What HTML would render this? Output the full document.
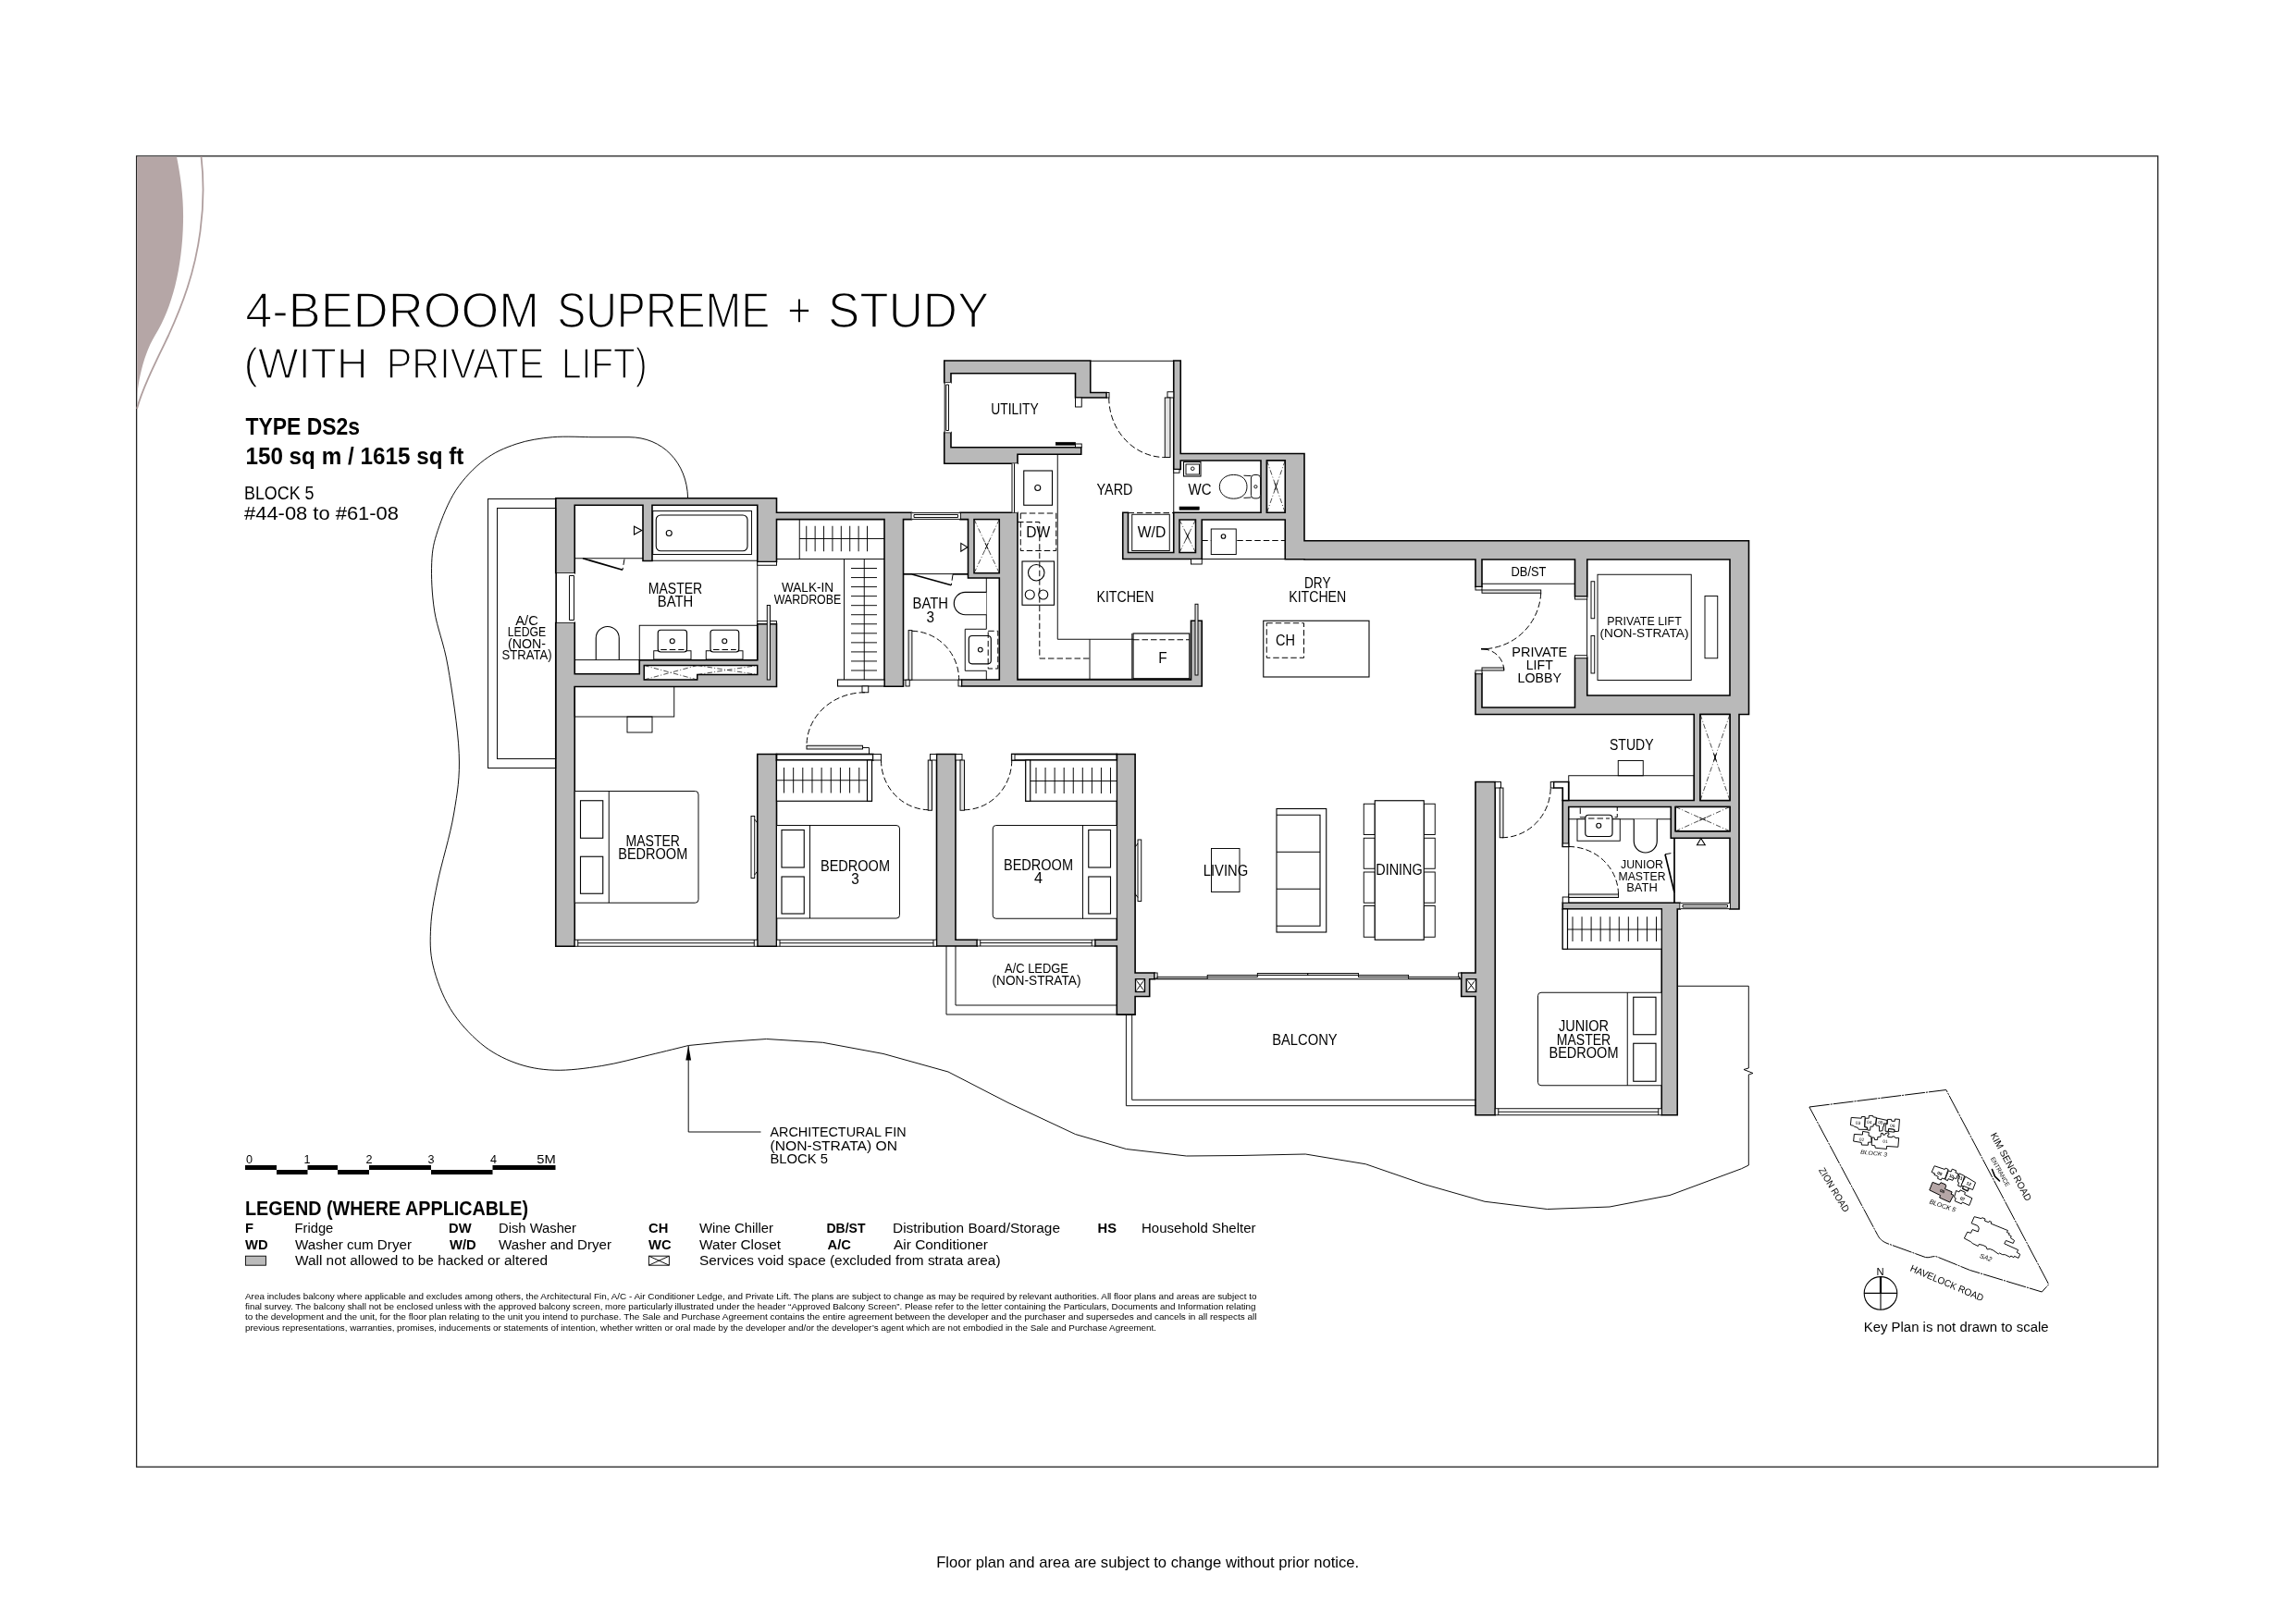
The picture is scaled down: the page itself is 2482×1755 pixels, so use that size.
<!DOCTYPE html>
<html lang="en"><head><meta charset="utf-8"><title>4-Bedroom Supreme + Study</title><style>
html,body{margin:0;padding:0;background:#fff}
body{width:2482px;height:1755px;overflow:hidden}
svg{display:block;will-change:transform;opacity:.9999}
text{font-family:"Liberation Sans",sans-serif;fill:#000}
.w{fill:#b9b9b9;stroke:#000;stroke-width:1.6;stroke-linejoin:miter}
.t{fill:none;stroke:#000;stroke-width:.95}
.t2{fill:none;stroke:#000;stroke-width:1.1}
.k{fill:none;stroke:#000;stroke-width:1.7}
.f{fill:#fff;stroke:#000;stroke-width:.95}
.f0{fill:#fff;stroke:none}
.fg{fill:#d8d8d8;stroke:#000;stroke-width:.9}
.fg2{fill:#e2e2e2;stroke:#000;stroke-width:.95}
.f2{fill:#fff;stroke:#000;stroke-width:1.15}
.f3{fill:#fff;stroke:#000;stroke-width:1.7}
.bk{fill:#000;stroke:#000;stroke-width:.6}
.vb{fill:#fff;stroke:#000;stroke-width:1.5}
.vb2{fill:#fff;stroke:#000;stroke-width:1.3}
.d{fill:none;stroke:#000;stroke-width:1;stroke-dasharray:6.5 3}
.dd{fill:none;stroke:#111;stroke-width:.75;stroke-dasharray:5.5 2.2 1 2.2}
.thin{stroke:#fff;stroke-width:1.5px;paint-order:normal}
.semi{stroke:#fff;stroke-width:.35px;paint-order:normal}
.kp{fill:#fff;stroke:#000;stroke-width:.95}
.kph{fill:#b5a6a6;stroke:#000;stroke-width:1}
.kpb{fill:none;stroke:#000;stroke-width:1;stroke-dasharray:22 1 2 1}
.kpa{fill:none;stroke:#000;stroke-width:1.6;stroke-linecap:round}
.kpn{fill:none;stroke:#000;stroke-width:2.2}
</style></head><body>
<svg width="2482" height="1755" viewBox="0 0 2482 1755">
<rect x="147.6" y="168.8" width="2185.1" height="1417.4" fill="none" stroke="#222" stroke-width="1.3"/>
<path fill="#b5a6a6" d="M148.2 169.4H191C196 195 198.5 215 198 240C197 290 186 333 168 362C156 381.5 150 408 148.2 428Z"/>
<path fill="none" stroke="#b09f9f" stroke-width="1.8" d="M217.5 169C220.5 195 220.5 220 216.5 250C210.5 295 197 330 182 363C168 392 154 420 148 442"/>
<path class="t" d="M743.6 538.3C742.5 500 716 472.7 680 472.7L640 472.7C632.88 472.7 610.95 471.47 597.3 472.7C583.65 473.93 570.43 475.97 558.1 480.1C545.77 484.23 534.18 489.15 523.3 497.5C512.42 505.85 501.15 517.48 492.8 530.2C484.45 542.92 477.55 560.73 473.2 573.8C468.85 586.87 467.28 594.08 466.7 608.6C466.12 623.12 466.8 642.32 469.7 660.9C472.6 679.48 479.68 694.5 484.1 720.1C488.52 745.7 495.12 787.85 496.2 814.5C497.28 841.15 494.5 856.58 490.6 880C486.7 903.42 476.95 934.7 472.8 955C468.65 975.3 466.48 986.97 465.7 1001.8C464.92 1016.63 464.58 1029.17 468.1 1044C471.62 1058.83 478.22 1076.77 486.8 1090.8C495.38 1104.83 507.9 1118.45 519.6 1128.2C531.3 1137.95 543.73 1144.47 557 1149.3C570.27 1154.13 583.58 1156.67 599.2 1157.2C614.82 1157.73 633.53 1155.23 650.7 1152.5C667.87 1149.77 686.6 1144.47 702.2 1140.8C717.8 1137.13 737.28 1132.22 744.3 1130.5L785 1126.5L828.6 1123.5L889.4 1127.3L955 1139.5L1025 1159L1090 1192.5L1162.5 1226.5L1217.5 1242.5L1282.5 1250L1340 1249.5L1411.25 1248L1476.25 1258.75L1540 1280.75L1605 1299.25L1672.5 1307.5L1740 1305L1805 1292.5L1882.5 1263.75L1890.3 1260"/>
<path class="t" d="M744.2 1131V1224H822.5"/>
<path d="M744.2 1130.5L741.3 1146.5H747.1Z" fill="#000"/>
<text x="832.5" y="1228.75" font-size="15.4" text-anchor="start" textLength="147" lengthAdjust="spacingAndGlyphs">ARCHITECTURAL FIN</text>
<text x="832.5" y="1243.6" font-size="15.4" text-anchor="start" textLength="137.5" lengthAdjust="spacingAndGlyphs">(NON-STRATA) ON</text>
<text x="832.5" y="1257.7" font-size="15.4" text-anchor="start" textLength="62.5" lengthAdjust="spacingAndGlyphs">BLOCK 5</text>
<path class="w" fill-rule="evenodd" d="M1162.5 403.75L1162.5 430L1178.75 430L1196.25 430L1196.25 424.5L1178.75 424.5L1178.75 403.75L1178.75 390L1162.5 390L1028 390L1020.75 390L1020.75 403.75L1020.75 413.75L1028 413.75L1028 403.75ZM1100 501.25L1100 491.25L1168.75 491.25L1168.75 483.75L1100 483.75L1028 483.75L1028 467.5L1020.75 467.5L1020.75 483.75L1020.75 501.25L1028 501.25ZM705 606.5L705 546.25L818.75 546.25L818.75 607.5L839.5 607.5L839.5 561.6L956 561.6L956 742.3L976.5 742.3L976.5 561.6L985.5 561.6L985.5 554.3L976.5 554.3L956 554.3L839.5 554.3L839.5 546.25L839.5 538.75L818.75 538.75L621.25 538.75L600.75 538.75L600.75 546.25L600.75 620L621.25 620L621.25 546.25L695 546.25L695 606.5ZM1038 554.2L1038 561.6L1046.5 561.6L1046.5 625L1080.3 625L1080.3 735L1039.5 735L1039.5 742L1080.3 742L1100 742L1287.5 742L1299.25 742L1299.25 735L1299.25 671.25L1287.5 671.25L1287.5 735L1100 735L1100 625L1100 561.6L1100 554.2L1080.3 554.2L1046.5 554.2ZM621.25 728.75L621.25 673L600.75 673L600.75 1023.25L621.25 1023.25L621.25 742.5L691.25 742.5L818.75 742.5L839.5 742.5L839.5 713.75L839.5 674.6L818.75 674.6L818.75 713.75L691.25 713.75L691.25 728.75ZM1033 1016.25L1033 815.5L1012.5 815.5L1012.5 1023L1033 1023L1056.25 1023L1056.25 1016.25ZM818.75 1023.25L839.5 1023.25L839.5 815.5L818.75 815.5ZM1363 554.25L1299.25 554.25L1268.75 554.25L1268.75 562L1268.75 597.5L1219.5 597.5L1219.5 554.25L1213.75 554.25L1213.75 597.5L1213.75 604.5L1219.5 604.5L1268.75 604.5L1299.25 604.5L1299.25 597.5L1299.25 562L1363 562L1369.5 562L1389.25 562L1389.25 604.75L1410 604.75L1410 605L1595 605L1595 634.5L1602 634.5L1602 605L1702.5 605L1702.5 645L1715.75 645L1715.75 605L1870 605L1870 752L1715.75 752L1715.75 711.25L1702.5 711.25L1702.5 752L1702.5 765L1602 765L1602 728L1595 728L1595 765L1595 772.5L1602 772.5L1702.5 772.5L1715.75 772.5L1716 772.5L1831.25 772.5L1831.25 865.5L1695.75 865.5L1689.25 865.5L1689.25 872.5L1689.25 915.5L1695.75 915.5L1695.75 872.5L1806.25 872.5L1806.25 898.75L1806.25 906.25L1811.25 906.25L1870 906.25L1870 983L1880 983L1880 772.5L1890.5 772.5L1890.5 752L1890.5 605L1890.5 584.75L1870 584.75L1410 584.75L1410 562L1410 554.25L1410 498L1410 490.5L1389.25 490.5L1276.25 490.5L1276.25 390L1268.75 390L1268.75 507.5L1276.25 507.5L1276.25 498L1363 498ZM1369.5 498L1389.25 498L1389.25 554.25L1369.5 554.25ZM1870 872.5L1870 898.75L1811.25 898.75L1811.25 872.5L1831.25 872.5L1838 872.5ZM1838 772.5L1870 772.5L1870 865.5L1838 865.5ZM1183.75 1023L1207.3 1023L1207.3 1097.1L1227.1 1097.1L1227.1 1077.5L1242.7 1077.5L1242.7 1058.7L1248.1 1058.7L1248.1 1052L1227.1 1052L1227.1 815.5L1207.3 815.5L1207.3 1016.25L1183.75 1016.25ZM1813.25 983L1816.25 983L1816.25 976.25L1813.25 976.25L1796.25 976.25L1689.25 976.25L1689.25 983L1796.25 983L1796.25 1205.75L1813.25 1205.75ZM1595 1205.75L1616.25 1205.75L1616.25 845.5L1595 845.5L1595 1052L1579.7 1052L1579.7 1077.5L1595 1077.5Z"/>
<path class="vb" d="M696.25 719.5L818.75 719.5L818.75 729.5L753.75 729.5L753.75 735L696.25 735Z"/>
<path class="dd" d="M696.25 719.5L753.75 735M696.25 735L753.75 719.5M753.75 719.5L818.75 729.5M753.75 729.5L818.75 719.5"/>
<rect class="vb" x="1053" y="561.6" width="27.3" height="58.1"/>
<path class="dd" d="M1053 561.6L1066.65 590.65"/>
<path class="dd" d="M1080.3 561.6L1066.65 590.65"/>
<path class="dd" d="M1053 619.7L1066.65 590.65"/>
<path class="dd" d="M1080.3 619.7L1066.65 590.65"/>
<path class="t" d="M1064.95 587.03L1068.35 594.27"/>
<path class="t" d="M1068.35 587.03L1064.95 594.27"/>
<rect class="vb" x="1369.5" y="498" width="19.75" height="56.25"/>
<path class="dd" d="M1369.5 498L1379.38 526.12"/>
<path class="dd" d="M1389.25 498L1379.38 526.12"/>
<path class="dd" d="M1369.5 554.25L1379.38 526.12"/>
<path class="dd" d="M1389.25 554.25L1379.38 526.12"/>
<path class="t" d="M1378.05 522.35L1380.7 529.9"/>
<path class="t" d="M1380.7 522.35L1378.05 529.9"/>
<rect class="vb" x="1275" y="562" width="17.5" height="35.5"/>
<path class="dd" d="M1275 562L1283.75 579.75"/>
<path class="dd" d="M1292.5 562L1283.75 579.75"/>
<path class="dd" d="M1275 597.5L1283.75 579.75"/>
<path class="dd" d="M1292.5 597.5L1283.75 579.75"/>
<path class="t" d="M1281.98 576.16L1285.52 583.34"/>
<path class="t" d="M1285.52 576.16L1281.98 583.34"/>
<rect class="vb" x="1838" y="772.5" width="32" height="93"/>
<path class="dd" d="M1838 772.5L1854 819"/>
<path class="dd" d="M1870 772.5L1854 819"/>
<path class="dd" d="M1838 865.5L1854 819"/>
<path class="dd" d="M1870 865.5L1854 819"/>
<path class="t" d="M1852.7 815.22L1855.3 822.78"/>
<path class="t" d="M1855.3 815.22L1852.7 822.78"/>
<rect class="vb" x="1811.25" y="872.5" width="58.75" height="26.25"/>
<path class="dd" d="M1811.25 872.5L1840.62 885.62"/>
<path class="dd" d="M1870 872.5L1840.62 885.62"/>
<path class="dd" d="M1811.25 898.75L1840.62 885.62"/>
<path class="dd" d="M1870 898.75L1840.62 885.62"/>
<path class="t" d="M1836.97 883.99L1844.28 887.26"/>
<path class="t" d="M1844.28 883.99L1836.97 887.26"/>
<rect class="vb2" x="1227.5" y="1058.7" width="10" height="13.8"/>
<path class="dd" d="M1227.5 1058.7L1232.5 1065.6"/>
<path class="dd" d="M1237.5 1058.7L1232.5 1065.6"/>
<path class="dd" d="M1227.5 1072.5L1232.5 1065.6"/>
<path class="dd" d="M1237.5 1072.5L1232.5 1065.6"/>
<path class="t" d="M1230.15 1062.36L1234.85 1068.84"/>
<path class="t" d="M1234.85 1062.36L1230.15 1068.84"/>
<rect class="vb2" x="1585.2" y="1058.7" width="10.5" height="13.8"/>
<path class="dd" d="M1585.2 1058.7L1590.45 1065.6"/>
<path class="dd" d="M1595.7 1058.7L1590.45 1065.6"/>
<path class="dd" d="M1585.2 1072.5L1590.45 1065.6"/>
<path class="dd" d="M1595.7 1072.5L1590.45 1065.6"/>
<path class="t" d="M1588.03 1062.42L1592.87 1068.78"/>
<path class="t" d="M1592.87 1062.42L1588.03 1068.78"/>
<path class="f3" d="M1679.5 845.5L1695.75 845.5L1695.75 865.5L1689.25 865.5L1689.25 852L1679.5 852Z"/>
<rect class="t" x="527.5" y="539.5" width="73.25" height="291"/>
<rect class="t" x="537.5" y="549.5" width="63.25" height="271"/>
<rect class="f0" x="600.75" y="620" width="20.5" height="53"/>
<path class="t" d="M601.5 620V673M615.5 622.5V670.5H620.5V622.5Z"/>
<path class="t" d="M621.25 603.75L695 603.75"/>
<path class="k" d="M630 603.75L673 616.25"/>
<path class="d" d="M675 604.5L673 616.25"/>
<path class="t2" d="M685.5 569.25L685.5 578L693.75 573.6Z"/>
<path class="t" d="M705 606.25L818.75 606.25"/>
<rect class="t" x="705.75" y="552.5" width="106.75" height="47"/>
<rect class="t2" x="709.25" y="557" width="98.75" height="38.75" rx="5"/>
<circle class="t2" cx="723.25" cy="576.5" r="3"/>
<path class="t" d="M818.75 607.5L818.75 673"/>
<rect class="f" x="818.75" y="607.5" width="20.75" height="3.75"/>
<rect class="f" x="818.75" y="671.6" width="20.75" height="3"/>
<rect class="fg2" x="829.25" y="654.5" width="3.25" height="80.5"/>
<path class="t2" d="M644.25 713.6V690A12.5 12.5 0 0 1 669.25 690V713.6"/>
<path class="t" d="M621.25 713.6L691.25 713.6"/>
<rect class="t" x="691.25" y="676.25" width="127.5" height="37.5"/>
<rect class="f" x="706.75" y="703.75" width="40.25" height="9.25"/>
<rect class="f2" x="711.25" y="681.25" width="31.25" height="23.75" rx="3"/>
<circle class="t2" cx="726.75" cy="693.25" r="2.5"/>
<path class="d" d="M714.25 702.5L739.5 702.5"/>
<rect class="f" x="763.25" y="703.75" width="39.75" height="9.25"/>
<rect class="f2" x="768" y="681.25" width="30.75" height="23.75" rx="3"/>
<circle class="t2" cx="783.25" cy="693.25" r="2.5"/>
<path class="d" d="M771 702.5L795.75 702.5"/>
<path class="t" d="M864.25 561.6L864.25 604.5"/>
<path class="t" d="M839.5 604.5L956 604.5"/>
<path class="t" d="M871.75 568.75V596.25M881.14 568.75V596.25M890.54 568.75V596.25M899.93 568.75V596.25M909.32 568.75V596.25M918.71 568.75V596.25M928.11 568.75V596.25M937.5 568.75V596.25M864.25 582.5H956"/>
<path class="t" d="M912.5 604.5L912.5 735"/>
<path class="t" d="M934.25 604.5L934.25 735"/>
<path class="t" d="M920 614.5H948M920 624.55H948M920 634.59H948M920 644.64H948M920 654.68H948M920 664.73H948M920 674.77H948M920 684.82H948M920 694.86H948M920 704.91H948M920 714.95H948M920 725H948"/>
<rect class="f2" x="905.5" y="735" width="50.5" height="7"/>
<rect class="f" x="932" y="742" width="6.75" height="6.75"/>
<path class="d" d="M935 748.75A63 57.5 0 0 0 872 806.25"/>
<rect class="fg2" x="872" y="806.25" width="60.5" height="3.75"/>
<path class="t" d="M932.5 808.5H939.5V815.5"/>
<rect class="t" x="621.25" y="742.5" width="107.5" height="32.5"/>
<rect class="t" x="678" y="775" width="27" height="17"/>
<path class="f" d="M621.25 855.5H751.5A3.5 3.5 0 0 1 755 859V972.75A3.5 3.5 0 0 1 751.5 976.25H621.25Z"/>
<path class="t" d="M658.25 855.5L658.25 976.25"/>
<rect class="t2" x="627.5" y="865.75" width="24.25" height="40.5"/>
<rect class="t2" x="627.5" y="926.25" width="24.25" height="40"/>
<rect class="f" x="621.25" y="1016.25" width="197.5" height="7"/>
<path class="t" d="M624.75 1019.75H815.25M624.75 1016.25V1023.25M815.25 1016.25V1023.25"/>
<rect class="f" x="812" y="882.5" width="3.75" height="67"/>
<path class="t" d="M815.75 886L818.75 890M815.75 946L818.75 942"/>
<rect class="f3" x="839.5" y="815.5" width="104.25" height="6.5"/>
<rect class="f" x="943.75" y="815.5" width="8.75" height="6.5"/>
<rect class="f2" x="839.5" y="822" width="103" height="44.25"/>
<rect class="f2" x="937.5" y="822" width="5" height="44.25"/>
<path class="t" d="M847.5 830V857.5M857.66 830V857.5M867.81 830V857.5M877.97 830V857.5M888.12 830V857.5M898.28 830V857.5M908.44 830V857.5M918.59 830V857.5M928.75 830V857.5M839.5 843.75H937.5"/>
<path class="d" d="M952.5 822A52.5 53.75 0 0 0 1003.75 875.75"/>
<rect class="fg2" x="1003.25" y="822" width="4.25" height="54.25"/>
<rect class="f" x="1005.5" y="815.5" width="7" height="6.5"/>
<path class="f" d="M839.5 892.5H969A3.5 3.5 0 0 1 972.5 896V989.5A3.5 3.5 0 0 1 969 993H839.5Z"/>
<path class="t" d="M875.5 892.5L875.5 993"/>
<rect class="t2" x="845" y="897.5" width="24.25" height="40.5"/>
<rect class="t2" x="845" y="948" width="24.25" height="40"/>
<rect class="f" x="839.5" y="1016.25" width="173" height="7"/>
<path class="t" d="M843 1019.75H1009M843 1016.25V1023.25M1009 1016.25V1023.25"/>
<rect class="f" x="1033" y="815.5" width="7" height="6.5"/>
<rect class="fg2" x="1038" y="822" width="4.5" height="54.25"/>
<path class="d" d="M1093.75 822A52 53.75 0 0 1 1042.5 875.75"/>
<rect class="f3" x="1093.75" y="815.5" width="113.55" height="6.5"/>
<rect class="f" x="1093.75" y="815.5" width="3.25" height="6.5"/>
<rect class="f2" x="1108.75" y="822" width="98.55" height="44.25"/>
<rect class="f2" x="1108.75" y="822" width="5" height="44.25"/>
<path class="t" d="M1120 830V858M1130.06 830V858M1140.12 830V858M1150.19 830V858M1160.25 830V858M1170.31 830V858M1180.38 830V858M1190.44 830V858M1200.5 830V858M1113.75 844.5H1207"/>
<path class="f" d="M1207.3 892.5H1076.75A3.5 3.5 0 0 0 1073.25 896V989.75A3.5 3.5 0 0 0 1076.75 993.25H1207.3Z"/>
<path class="t" d="M1170.5 892.5L1170.5 993.25"/>
<rect class="t2" x="1176.75" y="897.5" width="23.75" height="40.5"/>
<rect class="t2" x="1176.75" y="948" width="23.75" height="40"/>
<rect class="f" x="1056.25" y="1016.25" width="127.5" height="6.75"/>
<path class="t" d="M1059.75 1019.62H1180.25M1059.75 1016.25V1023M1180.25 1016.25V1023"/>
<path class="t" d="M1023 1023V1097H1207.3M1033 1023V1087H1207.3"/>
<rect class="f" x="1230" y="908" width="3.75" height="66.5"/>
<path class="t" d="M1230 912L1227.1 916M1230 970.5L1227.1 966.5"/>
<rect class="f0" x="985.5" y="554.3" width="52.5" height="7.3"/>
<path class="t" d="M985.5 554.6H1038M988 556.5H1035.5V559.5H988ZM985.5 561.4H1038"/>
<path class="t" d="M976.5 620.6L1046.5 620.6"/>
<path class="k" d="M976.5 620.8L986 620.8"/>
<path class="k" d="M1030 620.8L1046.5 620.8"/>
<path class="k" d="M985.9 621L1028.3 632.8"/>
<path class="d" d="M1030 621.3L1028.3 632.8"/>
<path class="t2" d="M1038.8 587.4L1038.8 596.2L1045.8 591.8Z"/>
<path class="t" d="M1066.3 625V680.3H1043.25V725.3H1066.3V735"/>
<path class="f2" d="M1066.3 640.3H1043.5A12.2 12.2 0 0 0 1043.5 664.7H1066.3"/>
<rect class="f2" x="1047.3" y="687.5" width="24" height="30.3" rx="3.5"/>
<circle class="t2" cx="1059.8" cy="702.6" r="2.4"/>
<rect class="d" x="1068.2" y="682.3" width="10.6" height="40.7"/>
<path class="t" d="M976.5 735.2L1039.5 735.2"/>
<rect class="fg2" x="982.1" y="681.6" width="3.8" height="53.6"/>
<path class="d" d="M985.9 682.3A52 53 0 0 1 1036.7 735.2"/>
<rect class="f" x="979" y="735.2" width="4.2" height="6.8"/>
<rect class="f" x="1036" y="735.2" width="3.5" height="6.8"/>
<rect class="f0" x="1020.75" y="413.75" width="7.25" height="53.75"/>
<path class="t" d="M1021.2 413.75V467.5M1022.8 416H1025.5V465.5H1022.8Z"/>
<rect class="f" x="1162.5" y="430" width="6.75" height="10"/>
<rect class="bk" x="1141.25" y="478.25" width="21.25" height="3"/>
<rect class="f" x="1162.5" y="480" width="6.75" height="3.75"/>
<path class="t" d="M1178.75 390.3L1268.75 390.3"/>
<rect class="f" x="1262" y="423.75" width="6.75" height="6.25"/>
<rect class="fg2" x="1259.25" y="430" width="5.75" height="64.5"/>
<path class="d" d="M1198.75 430A60.5 64.5 0 0 0 1259.25 494.5"/>
<rect class="f" x="1196.25" y="424.5" width="2.75" height="5.5"/>
<rect class="f0" x="1093.75" y="501.25" width="6.25" height="53"/>
<path class="t" d="M1094 501.25V554.25M1096.5 501.25V554.25"/>
<path class="t" d="M1143.25 491.25V691.25H1225M1100 734.25H1287.5M1178 691.25V734.25M1223.75 685V734.25"/>
<rect class="f2" x="1225" y="685" width="60.75" height="48.75"/>
<path class="d" d="M1225 691.75L1285.75 691.75"/>
<path class="d" d="M1100 564.5H1123.8V712H1178"/>
<rect class="t2" x="1106.75" y="509" width="30.75" height="37.25"/>
<circle class="t2" cx="1121.75" cy="527.5" r="3"/>
<rect class="d" x="1103.25" y="555" width="38.5" height="40.5"/>
<rect class="t2" x="1105" y="607" width="34.5" height="47.25"/>
<circle class="t2" cx="1120.25" cy="619.25" r="8.75"/>
<circle class="t2" cx="1113.25" cy="643" r="5"/>
<circle class="t2" cx="1127.75" cy="643" r="5"/>
<rect class="fg2" x="1292" y="653.25" width="3" height="76.75"/>
<rect class="t" x="1223.75" y="556.25" width="40.5" height="39.25"/>
<path class="d" d="M1219.5 554.6L1268.75 554.6"/>
<path class="t" d="M1299.25 604.5L1389.25 604.5"/>
<path class="d" d="M1299.25 584.5L1389.25 584.5"/>
<rect class="f" x="1309.25" y="572" width="27" height="27.5"/>
<circle class="t2" cx="1322.5" cy="580" r="2.3"/>
<rect class="f" x="1287.5" y="604.5" width="11.75" height="5.5"/>
<path class="t" d="M1268.75 507.5L1268.75 554.25"/>
<rect class="f" x="1268.75" y="507.5" width="6.25" height="3.75"/>
<rect class="t2" x="1279.5" y="499.5" width="18.5" height="15.5"/>
<rect class="t" x="1282" y="502" width="14.5" height="11"/>
<circle class="t" cx="1289.25" cy="506.75" r="1.8"/>
<rect class="bk" x="1275" y="548" width="21.25" height="3.25"/>
<path class="t" d="M1344.5 514.2L1352.4 514.6M1344.5 538.4L1352.4 538"/>
<path class="f" d="M1333.5 513.4C1343 513.4 1348 519 1348 526.3C1348 533.6 1343 539.2 1333.5 539.2C1324.5 539.2 1318.3 533.5 1318.3 526.3C1318.3 519 1324.5 513.4 1333.5 513.4Z"/>
<rect class="f" x="1352.4" y="513.5" width="10.2" height="25.4" rx="3.5"/>
<circle class="t" cx="1357.4" cy="526.3" r="1.6"/>
<rect class="t2" x="1365.75" y="671.25" width="114.25" height="60.75"/>
<rect class="d" x="1369.25" y="673.75" width="40.25" height="37.5"/>
<path class="t" d="M1602 631.25L1702.5 631.25"/>
<rect class="f" x="1595" y="634.5" width="7" height="3.5"/>
<rect class="fg2" x="1602" y="638" width="63.75" height="3.25"/>
<path class="d" d="M1665.75 641.25A63.75 63.75 0 0 1 1602 701.75"/>
<rect class="fg2" x="1602" y="722" width="23.75" height="3"/>
<rect class="f" x="1595" y="725" width="7" height="3.75"/>
<path class="d" d="M1625.75 725A23.75 23.25 0 0 0 1602 701.75"/>
<path class="k" d="M1601 701.75L1608 701.75"/>
<rect class="f" x="1702.5" y="645" width="13.25" height="3"/>
<rect class="f" x="1702.5" y="708.75" width="13.25" height="3"/>
<path class="t" d="M1715.6 648L1715.6 708.75"/>
<rect class="f" x="1720" y="628.75" width="3.75" height="40"/>
<rect class="f" x="1720" y="687.5" width="3.75" height="40.5"/>
<rect class="t" x="1727" y="621.25" width="101.25" height="114.25"/>
<rect class="t" x="1843" y="644.5" width="13.75" height="67.25"/>
<rect class="t" x="1695.75" y="838.75" width="135.5" height="26.75"/>
<rect class="t" x="1749.25" y="822.5" width="27" height="16.25"/>
<rect class="f" x="1616.25" y="845.5" width="6.25" height="6.5"/>
<rect class="fg2" x="1621.25" y="852" width="3.75" height="53.75"/>
<path class="d" d="M1623.75 905.75A53 54.5 0 0 0 1676.25 851"/>
<rect class="f" x="1676.25" y="845.5" width="3.25" height="6.5"/>
<path class="t" d="M1695.75 885.75L1806.25 885.75"/>
<rect class="d" x="1708.25" y="872.5" width="40" height="11.25"/>
<rect class="f" x="1705" y="885.75" width="46.25" height="23.5"/>
<rect class="f2" x="1713.75" y="881.25" width="29.25" height="23.25" rx="3.5"/>
<circle class="t2" cx="1728.25" cy="892.75" r="2.5"/>
<path class="d" d="M1717 885L1740 885"/>
<path class="f2" d="M1766.25 885.75V909.5A12.5 12.5 0 0 0 1791.25 909.5V885.75"/>
<path class="t" d="M1695.75 915.5L1695.75 976.25"/>
<rect class="f" x="1689.25" y="912" width="6.5" height="3.5"/>
<path class="d" d="M1695.75 915.5A53.75 52 0 0 1 1749.5 967"/>
<rect class="fg2" x="1695.75" y="967" width="53.75" height="3.5"/>
<rect class="f" x="1689.25" y="970" width="6.5" height="6.25"/>
<path class="k" d="M1810 906.25L1810 976.25"/>
<path class="k" d="M1800 923.75L1810 965"/>
<path class="d" d="M1800 923.75L1810 922"/>
<path class="t2" d="M1834.5 913.75L1843.25 913.75L1838.75 906.5Z"/>
<rect class="f0" x="1816.25" y="976.25" width="53.75" height="6.75"/>
<path class="t" d="M1816.25 976.6H1870M1819 978.5H1867.5V981H1819ZM1816.25 982.7H1870"/>
<rect class="f2" x="1689.25" y="983" width="107" height="43.25"/>
<rect class="f2" x="1689.25" y="983" width="5.25" height="43.25"/>
<path class="t" d="M1700 991.25V1018M1710.06 991.25V1018M1720.11 991.25V1018M1730.17 991.25V1018M1740.22 991.25V1018M1750.28 991.25V1018M1760.33 991.25V1018M1770.39 991.25V1018M1780.44 991.25V1018M1790.5 991.25V1018M1694.5 1005H1796.25"/>
<path class="f" d="M1796.25 1073.25H1666A3.5 3.5 0 0 0 1662.5 1076.75V1170.25A3.5 3.5 0 0 0 1666 1173.75H1796.25Z"/>
<path class="t" d="M1759.25 1073.25L1759.25 1173.75"/>
<rect class="t2" x="1765.75" y="1078.25" width="24.25" height="40.5"/>
<rect class="t2" x="1765.75" y="1128.25" width="24.25" height="41"/>
<rect class="f" x="1616.25" y="1198.75" width="180" height="7"/>
<path class="t" d="M1619.75 1202.25H1792.75M1619.75 1198.75V1205.75M1792.75 1198.75V1205.75"/>
<rect class="t" x="1309.5" y="917.5" width="30.5" height="47"/>
<rect class="t2" x="1380" y="874.5" width="53.75" height="133.5"/>
<path class="t2" d="M1380 881.25H1427V1001.25H1380M1380 921.25H1427M1380 961.25H1427"/>
<rect class="t" x="1474.25" y="869.25" width="12" height="33.25"/>
<rect class="t" x="1539.25" y="869.25" width="12" height="33.25"/>
<rect class="t" x="1474.25" y="906.25" width="12" height="33"/>
<rect class="t" x="1539.25" y="906.25" width="12" height="33"/>
<rect class="t" x="1474.25" y="943" width="12" height="33.25"/>
<rect class="t" x="1539.25" y="943" width="12" height="33.25"/>
<rect class="t" x="1474.25" y="979.5" width="12" height="33.75"/>
<rect class="t" x="1539.25" y="979.5" width="12" height="33.75"/>
<rect class="f2" x="1486.25" y="865.75" width="53" height="150.5"/>
<rect class="f" x="1248.1" y="1052" width="3" height="6"/>
<rect class="f" x="1576.7" y="1052" width="3" height="6"/>
<path class="t2" d="M1248 1058.7H1579.7"/>
<rect class="fg" x="1251.1" y="1056.3" width="54.1" height="2.1"/>
<rect class="fg" x="1305.2" y="1054.4" width="54.1" height="2.1"/>
<rect class="fg" x="1359.3" y="1052.5" width="54.5" height="2.1"/>
<rect class="fg" x="1413.8" y="1052.5" width="54.7" height="2.1"/>
<rect class="fg" x="1468.5" y="1054.4" width="54.1" height="2.1"/>
<rect class="fg" x="1522.6" y="1056.3" width="55.1" height="2.1"/>
<path class="t" d="M1217.4 1097.1V1195.7H1595.7M1223.7 1097.1V1189.3H1595.7"/>
<path class="t" d="M1813.25 1066.25H1890.3V1155L1885 1156.5L1895 1160.5L1890.3 1162V1260"/>
<g class="title">
<text x="265.2" y="354.4" font-size="53.4" text-anchor="start" textLength="317.8" lengthAdjust="spacingAndGlyphs" class="thin">4-BEDROOM</text>
<text x="602.2" y="354.4" font-size="53.4" text-anchor="start" textLength="230.2" lengthAdjust="spacingAndGlyphs" class="thin">SUPREME</text>
<text x="850.9" y="354.4" font-size="53.4" text-anchor="start" textLength="26" lengthAdjust="spacingAndGlyphs" class="thin">+</text>
<text x="895" y="354.4" font-size="53.4" text-anchor="start" textLength="174.2" lengthAdjust="spacingAndGlyphs" class="thin">STUDY</text>
<text x="263.4" y="408.7" font-size="45.6" text-anchor="start" textLength="134.1" lengthAdjust="spacingAndGlyphs" class="thin">(WITH</text>
<text x="417.8" y="408.7" font-size="45.6" text-anchor="start" textLength="170.6" lengthAdjust="spacingAndGlyphs" class="thin">PRIVATE</text>
<text x="606.9" y="408.7" font-size="45.6" text-anchor="start" textLength="92.9" lengthAdjust="spacingAndGlyphs" class="thin">LIFT)</text>
</g>
<text x="265.4" y="470" font-size="25.2" text-anchor="start" font-weight="700" textLength="123.6" lengthAdjust="spacingAndGlyphs">TYPE DS2s</text>
<text x="265.4" y="502" font-size="25.2" text-anchor="start" font-weight="700" textLength="236" lengthAdjust="spacingAndGlyphs">150 sq m / 1615 sq ft</text>
<text x="264" y="539.8" font-size="20" text-anchor="start" textLength="75.5" lengthAdjust="spacingAndGlyphs">BLOCK 5</text>
<text x="264" y="561.6" font-size="20" text-anchor="start" textLength="167" lengthAdjust="spacingAndGlyphs">#44-08 to #61-08</text>
<text x="730" y="642.19" font-size="15.8" text-anchor="middle" textLength="58.5" lengthAdjust="spacingAndGlyphs">MASTER</text>
<text x="730" y="655.94" font-size="15.8" text-anchor="middle" textLength="38.5" lengthAdjust="spacingAndGlyphs">BATH</text>
<text x="873" y="639.75" font-size="13.8" text-anchor="middle" textLength="56" lengthAdjust="spacingAndGlyphs">WALK-IN</text>
<text x="873" y="652.75" font-size="13.8" text-anchor="middle" textLength="72.5" lengthAdjust="spacingAndGlyphs">WARDROBE</text>
<text x="569.5" y="675.7" font-size="14.4" text-anchor="middle" textLength="24.5" lengthAdjust="spacingAndGlyphs">A/C</text>
<text x="569.5" y="688.2" font-size="14.4" text-anchor="middle" textLength="41.5" lengthAdjust="spacingAndGlyphs">LEDGE</text>
<text x="569.5" y="700.7" font-size="14.4" text-anchor="middle" textLength="41" lengthAdjust="spacingAndGlyphs">(NON-</text>
<text x="569.5" y="713.2" font-size="14.4" text-anchor="middle" textLength="54" lengthAdjust="spacingAndGlyphs">STRATA)</text>
<text x="1005.8" y="657.94" font-size="15.8" text-anchor="middle" textLength="38.4" lengthAdjust="spacingAndGlyphs">BATH</text>
<text x="1005.8" y="672.84" font-size="15.8" text-anchor="middle" textLength="8.5" lengthAdjust="spacingAndGlyphs">3</text>
<text x="1097" y="447.94" font-size="15.8" text-anchor="middle" textLength="51.5" lengthAdjust="spacingAndGlyphs">UTILITY</text>
<text x="1205" y="534.94" font-size="15.8" text-anchor="middle" textLength="39" lengthAdjust="spacingAndGlyphs">YARD</text>
<text x="1297" y="534.94" font-size="15.8" text-anchor="middle" textLength="25" lengthAdjust="spacingAndGlyphs">WC</text>
<text x="1245" y="581.19" font-size="15.8" text-anchor="middle" textLength="30.5" lengthAdjust="spacingAndGlyphs">W/D</text>
<text x="1122.25" y="581.19" font-size="15.8" text-anchor="middle" textLength="26" lengthAdjust="spacingAndGlyphs">DW</text>
<text x="1216.5" y="650.94" font-size="15.8" text-anchor="middle" textLength="62" lengthAdjust="spacingAndGlyphs">KITCHEN</text>
<text x="1424.25" y="635.94" font-size="15.8" text-anchor="middle" textLength="28.5" lengthAdjust="spacingAndGlyphs">DRY</text>
<text x="1424.25" y="650.94" font-size="15.8" text-anchor="middle" textLength="62" lengthAdjust="spacingAndGlyphs">KITCHEN</text>
<text x="1389.5" y="697.94" font-size="15.8" text-anchor="middle" textLength="21" lengthAdjust="spacingAndGlyphs">CH</text>
<text x="1257" y="716.69" font-size="15.8" text-anchor="middle" textLength="9.36" lengthAdjust="spacingAndGlyphs">F</text>
<text x="1652.5" y="623.13" font-size="14.2" text-anchor="middle" textLength="38" lengthAdjust="spacingAndGlyphs">DB/ST</text>
<text x="1777.5" y="675.83" font-size="13.3" text-anchor="middle" textLength="80.5" lengthAdjust="spacingAndGlyphs">PRIVATE LIFT</text>
<text x="1777.5" y="688.83" font-size="13.3" text-anchor="middle" textLength="96" lengthAdjust="spacingAndGlyphs">(NON-STRATA)</text>
<text x="1664.25" y="709.76" font-size="15.3" text-anchor="middle" textLength="60" lengthAdjust="spacingAndGlyphs">PRIVATE</text>
<text x="1664.25" y="724.01" font-size="15.3" text-anchor="middle" textLength="29" lengthAdjust="spacingAndGlyphs">LIFT</text>
<text x="1664.25" y="738.26" font-size="15.3" text-anchor="middle" textLength="47.5" lengthAdjust="spacingAndGlyphs">LOBBY</text>
<text x="1763.75" y="810.94" font-size="15.8" text-anchor="middle" textLength="47.5" lengthAdjust="spacingAndGlyphs">STUDY</text>
<text x="1775" y="939.11" font-size="13.4" text-anchor="middle" textLength="46" lengthAdjust="spacingAndGlyphs">JUNIOR</text>
<text x="1775" y="951.61" font-size="13.4" text-anchor="middle" textLength="51" lengthAdjust="spacingAndGlyphs">MASTER</text>
<text x="1775" y="964.11" font-size="13.4" text-anchor="middle" textLength="33.5" lengthAdjust="spacingAndGlyphs">BATH</text>
<text x="705.75" y="914.69" font-size="15.8" text-anchor="middle" textLength="58.5" lengthAdjust="spacingAndGlyphs">MASTER</text>
<text x="705.75" y="929.19" font-size="15.8" text-anchor="middle" textLength="75" lengthAdjust="spacingAndGlyphs">BEDROOM</text>
<text x="924.5" y="941.69" font-size="15.8" text-anchor="middle" textLength="75" lengthAdjust="spacingAndGlyphs">BEDROOM</text>
<text x="924.5" y="956.19" font-size="15.8" text-anchor="middle" textLength="8.5" lengthAdjust="spacingAndGlyphs">3</text>
<text x="1122.5" y="941.19" font-size="15.8" text-anchor="middle" textLength="75" lengthAdjust="spacingAndGlyphs">BEDROOM</text>
<text x="1122.5" y="955.44" font-size="15.8" text-anchor="middle" textLength="9" lengthAdjust="spacingAndGlyphs">4</text>
<text x="1325" y="946.69" font-size="15.8" text-anchor="middle" textLength="48.5" lengthAdjust="spacingAndGlyphs">LIVING</text>
<text x="1512.5" y="945.94" font-size="15.8" text-anchor="middle" textLength="50.5" lengthAdjust="spacingAndGlyphs">DINING</text>
<text x="1120.5" y="1051.75" font-size="13.8" text-anchor="middle" textLength="69" lengthAdjust="spacingAndGlyphs">A/C LEDGE</text>
<text x="1120.5" y="1064.75" font-size="13.8" text-anchor="middle" textLength="96" lengthAdjust="spacingAndGlyphs">(NON-STRATA)</text>
<text x="1410.4" y="1130.24" font-size="15.8" text-anchor="middle" textLength="70.5" lengthAdjust="spacingAndGlyphs">BALCONY</text>
<text x="1712" y="1115.44" font-size="15.8" text-anchor="middle" textLength="54" lengthAdjust="spacingAndGlyphs">JUNIOR</text>
<text x="1712" y="1129.69" font-size="15.8" text-anchor="middle" textLength="58.5" lengthAdjust="spacingAndGlyphs">MASTER</text>
<text x="1712" y="1143.69" font-size="15.8" text-anchor="middle" textLength="75" lengthAdjust="spacingAndGlyphs">BEDROOM</text>
<path fill="#000" d="M265 1260H299V1265H332.5V1260H365V1265H399V1260H466V1265H532.5V1260H600.5V1265H532.5V1270H466V1265H399V1270H365V1265H332.5V1270H299V1265H265Z"/>
<text x="269.5" y="1258.47" font-size="13" text-anchor="middle" textLength="7.01" lengthAdjust="spacingAndGlyphs">0</text>
<text x="332" y="1258.47" font-size="13" text-anchor="middle" textLength="7.01" lengthAdjust="spacingAndGlyphs">1</text>
<text x="399" y="1258.47" font-size="13" text-anchor="middle" textLength="7.01" lengthAdjust="spacingAndGlyphs">2</text>
<text x="466" y="1258.47" font-size="13" text-anchor="middle" textLength="7.01" lengthAdjust="spacingAndGlyphs">3</text>
<text x="533.5" y="1258.47" font-size="13" text-anchor="middle" textLength="7.01" lengthAdjust="spacingAndGlyphs">4</text>
<text x="590.5" y="1258.47" font-size="13" text-anchor="middle" textLength="20.5" lengthAdjust="spacingAndGlyphs">5M</text>
<text x="265" y="1313.8" font-size="21.6" text-anchor="start" font-weight="700" textLength="306" lengthAdjust="spacingAndGlyphs">LEGEND (WHERE APPLICABLE)</text>
<text x="265" y="1332.93" font-size="15.2" text-anchor="start" font-weight="700" textLength="9.01" lengthAdjust="spacingAndGlyphs">F</text>
<text x="318.5" y="1332.93" font-size="15.2" text-anchor="start" textLength="41.79" lengthAdjust="spacingAndGlyphs">Fridge</text>
<text x="265" y="1350.83" font-size="15.2" text-anchor="start" font-weight="700" textLength="24.56" lengthAdjust="spacingAndGlyphs">WD</text>
<text x="319" y="1350.83" font-size="15.2" text-anchor="start" textLength="126" lengthAdjust="spacingAndGlyphs">Washer cum Dryer</text>
<text x="485" y="1332.93" font-size="15.2" text-anchor="start" font-weight="700" textLength="24.56" lengthAdjust="spacingAndGlyphs">DW</text>
<text x="539" y="1332.93" font-size="15.2" text-anchor="start" textLength="84" lengthAdjust="spacingAndGlyphs">Dish Washer</text>
<text x="486" y="1350.83" font-size="15.2" text-anchor="start" font-weight="700" textLength="28.66" lengthAdjust="spacingAndGlyphs">W/D</text>
<text x="539" y="1350.83" font-size="15.2" text-anchor="start" textLength="122" lengthAdjust="spacingAndGlyphs">Washer and Dryer</text>
<text x="701" y="1332.93" font-size="15.2" text-anchor="start" font-weight="700" textLength="21.3" lengthAdjust="spacingAndGlyphs">CH</text>
<text x="756" y="1332.93" font-size="15.2" text-anchor="start" textLength="80" lengthAdjust="spacingAndGlyphs">Wine Chiller</text>
<text x="701" y="1350.83" font-size="15.2" text-anchor="start" font-weight="700" textLength="24.56" lengthAdjust="spacingAndGlyphs">WC</text>
<text x="756" y="1350.83" font-size="15.2" text-anchor="start" textLength="88" lengthAdjust="spacingAndGlyphs">Water Closet</text>
<text x="893.5" y="1332.93" font-size="15.2" text-anchor="start" font-weight="700" textLength="42" lengthAdjust="spacingAndGlyphs">DB/ST</text>
<text x="965" y="1332.93" font-size="15.2" text-anchor="start" textLength="181" lengthAdjust="spacingAndGlyphs">Distribution Board/Storage</text>
<text x="894.5" y="1350.83" font-size="15.2" text-anchor="start" font-weight="700" textLength="25.39" lengthAdjust="spacingAndGlyphs">A/C</text>
<text x="966" y="1350.83" font-size="15.2" text-anchor="start" textLength="102" lengthAdjust="spacingAndGlyphs">Air Conditioner</text>
<text x="1186.5" y="1332.93" font-size="15.2" text-anchor="start" font-weight="700" textLength="20.48" lengthAdjust="spacingAndGlyphs">HS</text>
<text x="1234" y="1332.93" font-size="15.2" text-anchor="start" textLength="123.5" lengthAdjust="spacingAndGlyphs">Household Shelter</text>
<rect x="265.4" y="1358.2" width="22" height="10" fill="#bbb" stroke="#000" stroke-width="0.9"/>
<text x="319" y="1368.23" font-size="15.2" text-anchor="start" textLength="273" lengthAdjust="spacingAndGlyphs">Wall not allowed to be hacked or altered</text>
<path class="t" d="M701.4 1358.2H723.4V1368.2H701.4ZL723.4 1368.2M723.4 1358.2L701.4 1368.2"/>
<text x="756" y="1368.23" font-size="15.2" text-anchor="start" textLength="325.5" lengthAdjust="spacingAndGlyphs">Services void space (excluded from strata area)</text>
<text x="265" y="1404.94" font-size="8.4" text-anchor="start" textLength="1093.5" lengthAdjust="spacingAndGlyphs">Area includes balcony where applicable and excludes among others, the Architectural Fin, A/C - Air Conditioner Ledge, and Private Lift. The plans are subject to change as may be required by relevant authorities. All floor plans and areas are subject to</text>
<text x="265" y="1415.94" font-size="8.4" text-anchor="start" textLength="1092.5" lengthAdjust="spacingAndGlyphs">final survey. The balcony shall not be enclosed unless with the approved balcony screen, more particularly illustrated under the header “Approved Balcony Screen”. Please refer to the letter containing the Particulars, Documents and Information relating</text>
<text x="265" y="1426.94" font-size="8.4" text-anchor="start" textLength="1093.5" lengthAdjust="spacingAndGlyphs">to the development and the unit, for the floor plan relating to the unit you intend to purchase. The Sale and Purchase Agreement contains the entire agreement between the developer and the purchaser and supersedes and cancels in all respects all</text>
<text x="265" y="1438.94" font-size="8.4" text-anchor="start" textLength="985" lengthAdjust="spacingAndGlyphs">previous representations, warranties, promises, inducements or statements of intention, whether written or oral made by the developer and/or the developer’s agent which are not embodied in the Sale and Purchase Agreement.</text>
<path class="kpb" d="M1955.9 1197L2103.8 1178.5L2214.7 1388.8L2207.3 1397L2129.6 1373.5L2094 1359C2090 1357.5 2086 1360.5 2081.6 1359.6L2040 1344.5C2034 1342 2031.5 1339 2029.8 1335.6Z"/>
<path class="kp" d="M2001.21 1208.41L2012.22 1209.21L2012.42 1207.41L2016.23 1207.61L2015.63 1218.62L2018.43 1219.02L2018.23 1221.43L2009.22 1221.23L2008.22 1219.42L2004.41 1218.22L2003.61 1217.22L2000.41 1216.62Z"/>
<path class="kp" d="M2016.43 1209.21L2020.23 1209.21L2020.43 1206.41L2024.63 1206.41L2024.83 1207.81L2028.44 1208.41L2027.64 1215.42L2025.24 1215.62L2025.04 1218.02L2022.03 1218.22L2021.63 1222.23L2018.83 1222.03L2018.63 1219.02L2015.83 1218.62Z"/>
<path class="kp" d="M2028.64 1209.01L2040.05 1211.42L2039.85 1215.02L2036.65 1214.82L2036.25 1218.22L2035.45 1218.42L2035.05 1222.63L2031.64 1223.23L2031.44 1217.42L2027.84 1217.02Z"/>
<path class="kp" d="M2040.45 1210.42L2044.65 1210.42L2044.85 1212.22L2048.26 1212.42L2048.46 1210.02L2053.46 1210.42L2052.46 1223.23L2048.06 1223.63L2047.86 1221.43L2041.65 1220.63L2041.25 1223.43L2038.05 1223.23L2038.25 1215.82L2040.25 1215.62Z"/>
<path class="kp" d="M2041.65 1220.63L2047.86 1221.43L2047.66 1224.23L2041.45 1223.43Z"/>
<path class="kp" d="M2004.41 1226.43L2013.42 1227.03L2013.62 1223.43L2020.23 1224.43L2020.03 1228.23L2022.63 1228.63L2023.23 1235.04L2019.43 1235.24L2019.43 1238.24L2012.42 1238.04L2012.22 1235.44L2003.61 1234.04Z"/>
<path class="kp" d="M2023.63 1229.83L2026.24 1230.24L2026.44 1232.44L2029.64 1232.44L2029.84 1229.43L2033.04 1229.23L2033.44 1225.43L2035.45 1225.43L2035.65 1227.23L2037.85 1227.03L2038.05 1225.63L2041.65 1224.63L2042.05 1226.63L2040.85 1227.03L2040.85 1229.43L2045.26 1229.83L2045.66 1228.83L2048.06 1229.03L2048.86 1230.44L2052.66 1230.44L2051.86 1240.25L2039.45 1239.44L2039.45 1242.45L2027.24 1241.25L2026.84 1238.84L2023.23 1238.24Z"/>
<path class="kp" d="M2091.18 1260.76L2102.37 1264.49L2103.04 1263.13L2106.09 1264.49L2102.37 1274.99L2099.32 1273.98L2098.3 1276.01L2094.57 1274.32L2095.25 1272.28L2090.84 1270.25L2091.52 1268.89L2088.13 1267.54Z"/>
<path class="kp" d="M2106.43 1265.84L2109.14 1267.06L2110.29 1264.15L2114.7 1265.84L2113.89 1268.01L2116.94 1269.1L2114.7 1274.65L2111.85 1273.64L2110.84 1276.35L2106.09 1274.65L2105.42 1276.69L2102.7 1275.33Z"/>
<path class="kp" d="M2117.95 1268.89L2123.71 1271.6L2119.99 1283.46L2116.6 1282.11L2117.61 1278.72L2116.26 1278.04Z"/>
<path class="kp" d="M2124.73 1272.28L2135.57 1278.72L2132.52 1286.51L2128.46 1284.82L2127.1 1288.21L2121.34 1285.5L2122.36 1282.79L2119.99 1281.77Z"/>
<path class="kp" d="M2122.7 1282.45L2128.12 1284.82L2127.1 1287.53L2121.68 1285.16Z"/>
<path class="kp" d="M2114.56 1287.53L2117.95 1288.89L2118.97 1286.85L2124.39 1289.23L2123.71 1291.6L2131.85 1295.66L2128.8 1303.46L2121.34 1300.07L2120.33 1301.76L2113.21 1298.71L2114.23 1295.66L2112.53 1294.65Z"/>
<path class="kph" d="M2089.15 1278.38L2096.27 1281.09L2097.96 1278.72L2103.04 1280.75L2103.72 1282.79L2102.37 1285.5L2110.16 1288.89L2109.14 1291.26L2111.85 1292.28L2107.79 1300.07L2096.6 1294.99L2097.62 1292.61L2085.76 1286.85Z"/>
<path class="kp" d="M2134.22 1315.66L2142.01 1317.69L2142.69 1316.67L2146.08 1318.03L2145.4 1320.06L2149.81 1321.76L2150.48 1320.4L2152.86 1321.42L2152.18 1323.11L2170.48 1330.57L2169.46 1332.6L2172.17 1333.62L2171.49 1335.31L2174.21 1336.67L2173.53 1338.7L2177.59 1341.41L2176.24 1344.46L2168.44 1341.41L2166.75 1344.8L2181.66 1351.58L2180.3 1354.29L2183.69 1356.32L2182 1360.39L2177.59 1358.35L2176.92 1359.71L2173.87 1358.02L2172.85 1359.37L2167.43 1356.66L2164.72 1356.66L2161.33 1354.97L2160.31 1355.98L2154.55 1351.92L2151.16 1350.56L2148.11 1350.9L2147.1 1348.19L2143.71 1346.49L2139.3 1345.48L2138.29 1347.51L2132.19 1344.46L2130.49 1342.77L2123.38 1339.04L2126.76 1332.26L2130.49 1333.28L2132.19 1329.55L2138.29 1331.92L2139.3 1328.2L2137.95 1325.48L2131.17 1322.77Z"/>
<text transform="translate(2008.62 1214.22) rotate(6)" x="0" y="1.62" font-size="4.7" text-anchor="middle" fill="#333" textLength="5.23" lengthAdjust="spacingAndGlyphs">03</text>
<text transform="translate(2020.83 1213.42) rotate(6)" x="0" y="1.62" font-size="4.7" text-anchor="middle" fill="#333" textLength="5.23" lengthAdjust="spacingAndGlyphs">04</text>
<text transform="translate(2033.04 1213.62) rotate(6)" x="0" y="1.62" font-size="4.7" text-anchor="middle" fill="#333" textLength="5.23" lengthAdjust="spacingAndGlyphs">05</text>
<text transform="translate(2045.86 1217.22) rotate(6)" x="0" y="1.62" font-size="4.7" text-anchor="middle" fill="#333" textLength="5.23" lengthAdjust="spacingAndGlyphs">06</text>
<text transform="translate(2012.62 1232.04) rotate(6)" x="0" y="1.62" font-size="4.7" text-anchor="middle" fill="#333" textLength="5.23" lengthAdjust="spacingAndGlyphs">02</text>
<text transform="translate(2038.05 1234.04) rotate(6)" x="0" y="1.62" font-size="4.7" text-anchor="middle" fill="#333" textLength="5.23" lengthAdjust="spacingAndGlyphs">01</text>
<text transform="translate(2096.94 1268.89) rotate(22)" x="0" y="1.65" font-size="4.8" text-anchor="middle" fill="#000" textLength="5.34" lengthAdjust="spacingAndGlyphs" font-weight="700">09</text>
<text transform="translate(2109.48 1271.6) rotate(22)" x="0" y="1.65" font-size="4.8" text-anchor="middle" fill="#000" textLength="5.34" lengthAdjust="spacingAndGlyphs" font-weight="700">10</text>
<text transform="translate(2119.17 1273.64) rotate(22)" x="0" y="1.65" font-size="4.8" text-anchor="middle" fill="#000" textLength="4.98" lengthAdjust="spacingAndGlyphs" font-weight="700">11</text>
<text transform="translate(2128.25 1279.94) rotate(22)" x="0" y="1.65" font-size="4.8" text-anchor="middle" fill="#000" textLength="5.34" lengthAdjust="spacingAndGlyphs" font-weight="700">12</text>
<text transform="translate(2099.52 1287.87) rotate(22)" x="0" y="1.65" font-size="4.8" text-anchor="middle" fill="#000" textLength="5.34" lengthAdjust="spacingAndGlyphs" font-weight="700">08</text>
<text transform="translate(2121.48 1296.34) rotate(22)" x="0" y="1.65" font-size="4.8" text-anchor="middle" fill="#000" textLength="5.34" lengthAdjust="spacingAndGlyphs" font-weight="700">07</text>
<text transform="translate(2025.64 1247.05) rotate(6.3)" x="0" y="2.06" font-size="6" text-anchor="middle" fill="#333" textLength="29" lengthAdjust="spacingAndGlyphs" font-style="italic">BLOCK 3</text>
<text transform="translate(2099.99 1303.8) rotate(18.6)" x="0" y="2.41" font-size="7" text-anchor="middle" fill="#333" textLength="29.7" lengthAdjust="spacingAndGlyphs" font-style="italic">BLOCK 5</text>
<text transform="translate(2146.76 1359.71) rotate(20)" x="0" y="2.41" font-size="7" text-anchor="middle" fill="#333" textLength="13.5" lengthAdjust="spacingAndGlyphs" font-style="italic">SA2</text>
<text transform="translate(1982.7 1286.6) rotate(59)" x="0" y="3.58" font-size="10.4" text-anchor="middle" fill="#000" textLength="54" lengthAdjust="spacingAndGlyphs">ZION ROAD</text>
<text transform="translate(2174 1261.7) rotate(61.7)" x="0" y="3.58" font-size="10.4" text-anchor="middle" fill="#000" textLength="82" lengthAdjust="spacingAndGlyphs">KIM SENG ROAD</text>
<text transform="translate(2162.3 1267) rotate(60.6)" x="0" y="2.27" font-size="6.6" text-anchor="middle" fill="#222" textLength="35" lengthAdjust="spacingAndGlyphs">ENTRANCE</text>
<text transform="translate(2104.7 1387.4) rotate(23)" x="0" y="3.58" font-size="10.4" text-anchor="middle" fill="#000" textLength="85" lengthAdjust="spacingAndGlyphs">HAVELOCK ROAD</text>
<path class="kpa" d="M2153.5 1264.5L2156.5 1272L2161.5 1277"/>
<circle class="t2" cx="2033" cy="1398.4" r="17.8"/>
<path class="t2" d="M2015.2 1398.4H2050.8M2033 1398.4V1416.2"/>
<path class="kpn" d="M2033 1380.6V1398.4"/>
<text x="2032.6" y="1378.59" font-size="11.6" text-anchor="middle" textLength="8.13" lengthAdjust="spacingAndGlyphs">N</text>
<text x="2014.7" y="1439.7" font-size="15.4" text-anchor="start" textLength="200" lengthAdjust="spacingAndGlyphs">Key Plan is not drawn to scale</text>
<text x="1012.2" y="1695" font-size="17" text-anchor="start" textLength="457" lengthAdjust="spacingAndGlyphs">Floor plan and area are subject to change without prior notice.</text>
</svg>
</body></html>
